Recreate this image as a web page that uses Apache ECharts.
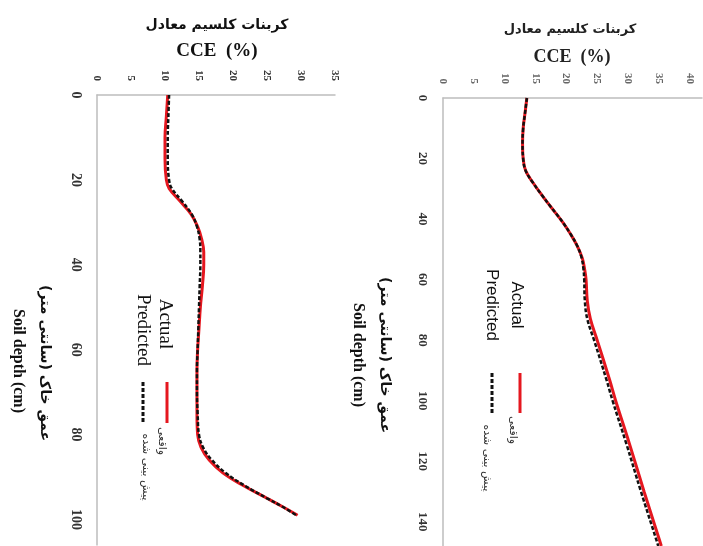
<!DOCTYPE html>
<html>
<head>
<meta charset="utf-8">
<script src="https://cdn.jsdelivr.net/npm/echarts@6/dist/echarts.min.js"></script>
<style>html,body{margin:0;padding:0;background:#fff}#c{width:703px;height:546px}</style>
</head>
<body>
<div id="c"></div>
<script>
// ---- Data (left panel) ----
const depthLeft = [0,5,10,15,20,22,25,28,31,34,37,40,45,50,55,60,65,70,75,80,83,86,89,92,95,97,99];
const actualLeft = [10.4,10.2,10.0,10.0,10.2,10.6,12.2,13.8,14.8,15.4,15.7,15.7,15.5,15.2,15.0,14.8,14.7,14.7,14.7,14.8,15.3,16.5,18.5,21.5,25.0,27.3,29.5];
const predictedLeft = [10.6,10.5,10.4,10.4,10.6,11.0,12.5,13.9,14.7,15.1,15.2,15.2,15.1,15.0,14.9,14.8,14.7,14.7,14.8,15.0,15.6,16.9,18.9,21.7,25.0,27.3,29.3];
// ---- Data (right panel) ----
const depthRight = [0,5,10,15,20,24,28,32,36,41,45,49,53,57,60,67,73,80,93,100,114,130,146,148];
const actualRight = [13.6,13.3,13.0,12.9,13.0,13.4,14.6,16.0,17.5,19.4,20.7,21.8,22.6,23.0,23.2,23.4,23.9,25.0,27.0,28.0,30.2,32.6,35.1,35.4];
const predictedRight = [13.6,13.3,13.0,12.9,13.0,13.4,14.6,16.0,17.5,19.4,20.7,21.8,22.5,22.8,22.9,23.0,23.4,24.5,26.5,27.5,29.7,32.1,34.6,34.9];
// ---- Labels ----
const xTitleFa = 'کربنات کلسیم معادل';
const xTitleEn = 'CCE  (%)';
const yTitleFa = 'عمق خاک (سانتی متر)\u200F';
const yTitleEn = 'Soil depth (cm)';
const legendEn = ['Actual', 'Predicted'];
const legendFa = ['واقعی', 'پیش بینی شده'];

const pairs = (vals, depths) => vals.map((v, i) => [v, depths[i]]);
const chart = echarts.init(document.getElementById('c'), null, {renderer: 'canvas'});
const R = -Math.PI / 2;
const serif = '"Liberation Serif", "Times New Roman", serif';
const sans = '"Liberation Sans", Arial, sans-serif';
const fa = '"DejaVu Sans", sans-serif';

function txt(x, y, text, font, fill) {
  return {type: 'text', x: x, y: y, rotation: R, silent: true,
    style: {text: text, font: font, fill: fill || '#111', align: 'center', verticalAlign: 'middle', textAlign: 'center', textVerticalAlign: 'middle'}};
}
function htxt(x, y, text, font, fill) {
  return {type: 'text', x: x, y: y, silent: true,
    style: {text: text, font: font, fill: fill || '#111', align: 'center', verticalAlign: 'middle', textAlign: 'center', textVerticalAlign: 'middle'}};
}
function seg(x, y1, y2, color, dash) {
  return {type: 'line', silent: true, shape: {x1: x, y1: y1, x2: x, y2: y2},
    style: {stroke: color, lineWidth: 3, lineDash: dash || null}};
}

function xAxisCfg(gi, max, labelColor) {
  return {type: 'value', gridIndex: gi, position: 'top', min: 0, max: max, interval: 5,
    axisLine: {show: true, lineStyle: {color: '#bdbdbd', width: 1.5}},
    axisTick: {show: false}, splitLine: {show: false},
    axisLabel: {rotate: -90, margin: 14, color: labelColor, fontFamily: serif, fontWeight: 'bold', fontSize: 11, showMaxLabel: max % 5 === 0}};
}
function yAxisCfg(gi, max, fs) {
  return {type: 'value', gridIndex: gi, inverse: true, min: 0, max: max, interval: 20,
    axisLine: {show: true, lineStyle: {color: '#bdbdbd', width: 1.5}},
    axisTick: {show: false}, splitLine: {show: false},
    axisLabel: {rotate: -90, margin: 14, color: '#333', fontFamily: serif, fontWeight: 'bold', fontSize: fs, showMaxLabel: max % 20 === 0}};
}

const option = {
  animation: false,
  backgroundColor: '#fff',
  grid: [
    {left: 97, top: 95, width: 238, height: 450},
    {left: 443, top: 98, width: 259, height: 448}
  ],
  xAxis: [xAxisCfg(0, 35, '#333'), xAxisCfg(1, 42, '#666')],
  yAxis: [yAxisCfg(0, 106, 14), yAxisCfg(1, 148, 13)],
  series: [
    {type: 'line', xAxisIndex: 0, yAxisIndex: 0, data: pairs(actualLeft, depthLeft), smooth: 0.4, showSymbol: false,
      lineStyle: {color: '#e5171f', width: 3}},
    {type: 'line', xAxisIndex: 0, yAxisIndex: 0, data: pairs(predictedLeft, depthLeft), smooth: 0.4, showSymbol: false,
      lineStyle: {color: '#111', width: 2.5, type: [4, 2]}},
    {type: 'line', xAxisIndex: 1, yAxisIndex: 1, data: pairs(actualRight, depthRight), smooth: 0.4, showSymbol: false,
      lineStyle: {color: '#e5171f', width: 3}},
    {type: 'line', xAxisIndex: 1, yAxisIndex: 1, data: pairs(predictedRight, depthRight), smooth: 0.4, showSymbol: false,
      lineStyle: {color: '#111', width: 2.5, type: [4, 2]}}
  ],
  graphic: [
    // top titles
    htxt(217, 25, xTitleFa, 'bold 14px ' + fa),
    htxt(217, 51, xTitleEn, 'bold 19px ' + serif),
    htxt(570, 30, xTitleFa, 'bold 13px ' + fa, '#222'),
    htxt(572, 57, xTitleEn, 'bold 18px ' + serif, '#222'),
    // depth titles
    txt(45, 363, yTitleFa, 'bold 14px ' + fa),
    txt(18, 361, yTitleEn, 'bold 16px ' + serif),
    txt(385, 355, yTitleFa, 'bold 14px ' + fa),
    txt(358, 355, yTitleEn, 'bold 16px ' + serif),
    // legend left
    txt(165, 324, legendEn[0], '19px ' + serif),
    txt(143, 330, legendEn[1], '19px ' + serif),
    seg(167, 382, 423, '#e5171f'),
    seg(143, 382, 423, '#111', [4, 2]),
    txt(162, 441, legendFa[0], '11px ' + fa, '#333'),
    txt(146, 467, legendFa[1], '11px ' + fa, '#333'),
    // legend right
    txt(517, 305, legendEn[0], '17px ' + sans),
    txt(492, 305, legendEn[1], '17px ' + sans),
    seg(520, 373, 413, '#e5171f'),
    seg(492, 373, 413, '#111', [4, 2]),
    txt(513, 430, legendFa[0], '11px ' + fa, '#333'),
    txt(487, 458, legendFa[1], '11px ' + fa, '#333')
  ]
};
chart.setOption(option);
</script>
</body>
</html>
